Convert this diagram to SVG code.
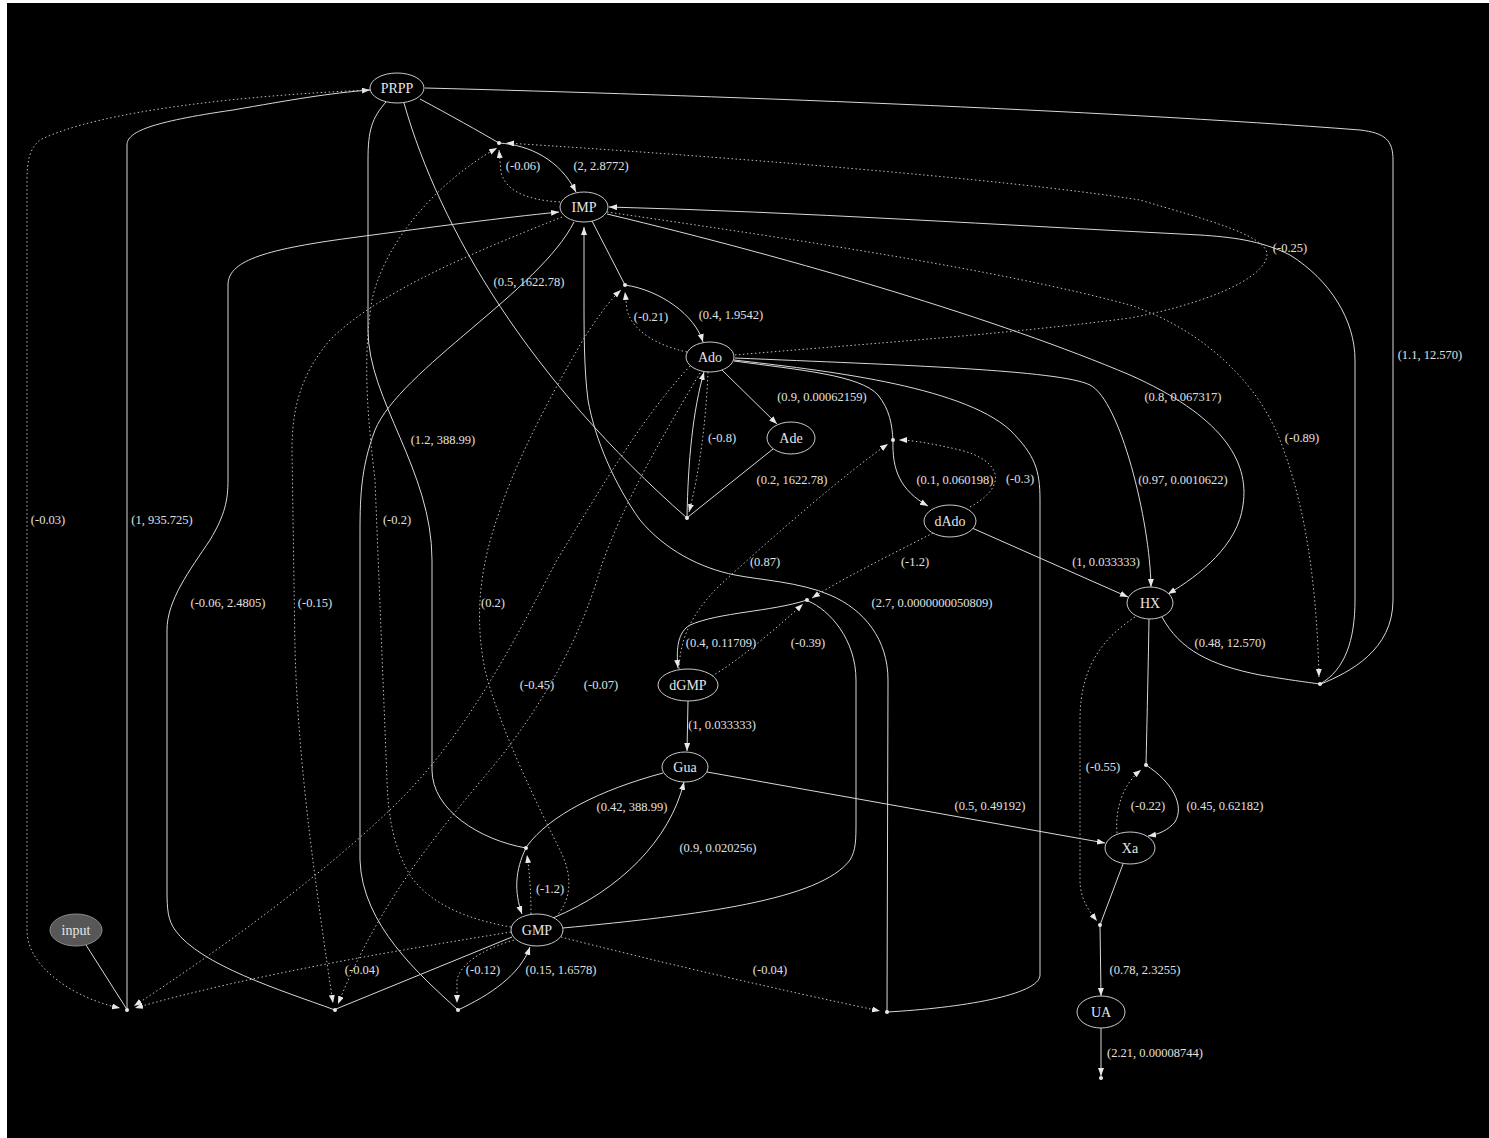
<svg xmlns="http://www.w3.org/2000/svg" width="1489" height="1138" viewBox="0 0 1489 1138">
<style>
.e{fill:none;stroke:#d8d8d8;stroke-width:1}
.d{fill:none;stroke:#bdbdbd;stroke-width:1;stroke-dasharray:1.5,2.5}
.a{marker-end:url(#ah)}
.n{fill:#000;stroke:#c8c8c8;stroke-width:1}
.nt{font-family:"Liberation Serif","Times New Roman",serif;font-size:14px;fill:#e6e6e6;text-anchor:middle}
.lt{font-family:"Liberation Serif","Times New Roman",serif;font-size:12.5px;fill:#e0e0e0;text-anchor:middle}
.p{fill:#e8e8e8}
</style>
<defs>
<marker id="ah" markerUnits="userSpaceOnUse" markerWidth="9" markerHeight="7" refX="8" refY="3" orient="auto">
<path d="M0,0 L8,3 L0,6 z" fill="#e8e8e8"/>
</marker>
</defs>
<rect x="0" y="0" width="1489" height="1138" fill="#fff"/>
<rect x="7" y="3" width="1482" height="1135" fill="#000"/>
<g id="connectors">
<!-- substrate edges -->
<path class="e" d="M420,99 C450,115 480,132 499,143"/>
<path class="e" d="M592,221 L625,285"/>
<path class="e" d="M404,103 C440,230 530,380 687,518"/>
<path class="e" d="M773,449 L688,517"/>
<path class="e" d="M386,102 C372,118 368,130 368,160 L368,330 C368,400 432,470 432,560 L432,770 C432,810 480,840 526,848"/>
<path class="e" d="M663,773 C600,790 550,815 527,846"/>
<path class="e" d="M574,222 C540,290 400,370 375,430 C360,470 360,500 360,540 L360,860 C362,925 420,975 458,1010"/>
<path class="e" d="M512,937 L336,1009"/>
<path class="e" d="M734,361 C800,370 860,375 878,395 C890,410 892,425 893,440"/>
<path class="e" d="M734,360 C820,370 960,385 1010,430 C1035,455 1040,470 1040,500 L1040,975 C1040,995 960,1008 887,1012"/>
<path class="e" d="M1149,619 C1148,680 1147,720 1146,765"/>
<path class="e" d="M1123,864 L1100,925"/>
<path class="e a" d="M1101,1028 L1101,1076"/>
<path class="e" d="M86,945 L126,1008"/>
<path class="e" d="M425,88 C700,95 1100,110 1360,130 C1385,133 1393,140 1393,160 L1393,600 C1393,650 1350,672 1321,684"/>
<path class="e" d="M1162,617 C1180,650 1210,665 1260,675 C1290,680 1305,682 1320,684"/>
<path class="e" d="M563,928 C700,915 820,900 850,860 C856,850 856,840 856,820 L856,680 C856,640 830,610 808,601"/>
<!-- product edges -->
<path class="e a" d="M499,143 C530,145 560,160 576,192"/>
<path class="e a" d="M625,285 C660,290 695,315 703,342"/>
<path class="e a" d="M687,518 C688,460 693,410 704,372"/>
<path class="e a" d="M722,370 L777,424"/>
<path class="e a" d="M893,440 C892,470 900,490 928,506"/>
<path class="e a" d="M807,600 C770,612 720,612 690,625 C678,632 676,648 678,668"/>
<path class="e a" d="M688,701 L687,751"/>
<path class="e a" d="M526,848 C515,870 514,892 522,914"/>
<path class="e a" d="M553,918 C620,890 670,840 684,782"/>
<path class="e a" d="M707,772 L1105,843"/>
<path class="e a" d="M735,358 C900,365 1060,370 1090,385 C1120,400 1150,520 1151,587"/>
<path class="e a" d="M607,214 C800,260 1000,320 1130,375 C1220,415 1250,460 1243,505 C1238,545 1200,575 1168,594"/>
<path class="e a" d="M972,528 L1128,597"/>
<path class="e a" d="M1146,765 C1172,782 1185,805 1175,822 C1168,830 1160,834 1148,836"/>
<path class="e a" d="M1100,925 L1101,996"/>
<path class="e a" d="M1320,684 C1345,670 1355,640 1355,600 L1355,360 C1355,320 1330,280 1290,255 C1260,240 1230,237 1200,235 C1000,225 800,212 609,207"/>
<path class="e a" d="M127,1010 L127,145 C127,132 150,122 233,110 C290,100 330,93 370,90"/>
<path class="e a" d="M335,1010 C280,990 200,965 175,930 C168,920 167,910 167,890 L167,630 C167,600 190,570 210,540 C225,515 228,500 228,480 L228,285 C228,262 260,250 350,238 C440,226 500,218 559,212"/>
<path class="e a" d="M458,1010 C490,995 520,975 530,947"/>
<path class="e a" d="M887,1012 L888,680 C888,640 865,610 830,595 C800,582 760,580 735,575 C700,568 665,550 640,520 C615,485 595,440 588,400 C584,370 584,330 584,300 L584,227"/>
<!-- modifier edges -->
<path class="d a" d="M560,202 C525,200 505,190 501,172 L499,150"/>
<path class="d a" d="M735,355 C850,345 1000,335 1130,318 C1200,305 1265,280 1267,255 C1268,235 1200,218 1140,200 C1000,178 700,155 506,143"/>
<path class="d a" d="M511,927 C470,920 430,905 410,875 C395,850 388,820 387,780 L375,480 C368,420 362,360 372,300 C385,240 440,180 497,148"/>
<path class="d a" d="M687,352 C655,345 632,330 627,310 L625,292"/>
<path class="d a" d="M556,917 C575,895 570,870 560,850 C540,810 500,730 485,670 C475,620 478,570 500,510 C520,450 560,380 580,345 C595,320 610,300 621,290"/>
<path class="d a" d="M708,372 C706,420 700,470 689,512"/>
<path class="d a" d="M679,669 C680,640 690,615 720,585 C780,530 850,470 888,444"/>
<path class="d a" d="M970,507 C1010,485 1000,460 960,450 C930,443 910,440 899,440"/>
<path class="d a" d="M933,533 C890,555 840,580 812,598"/>
<path class="d a" d="M712,676 C740,660 780,625 803,604"/>
<path class="d a" d="M531,914 C531,895 530,875 527,855"/>
<path class="d a" d="M1117,833 C1115,810 1122,785 1141,770"/>
<path class="d a" d="M1135,617 C1100,640 1080,670 1080,720 L1080,880 C1080,900 1090,912 1097,921"/>
<path class="d a" d="M607,212 C800,240 1000,270 1130,305 C1190,325 1250,370 1278,435 C1300,490 1316,560 1319,677"/>
<path class="d a" d="M370,90 C250,95 100,110 40,140 C30,148 27,160 27,180 L27,930 C27,970 80,1000 120,1008"/>
<path class="d a" d="M511,932 C400,950 250,975 135,1008"/>
<path class="d a" d="M690,366 C640,420 600,490 557,560 C520,630 470,730 400,800 C330,870 220,950 134,1006"/>
<path class="d a" d="M700,373 C660,440 620,510 600,570 C580,640 540,710 490,770 C440,830 380,900 338,1004"/>
<path class="d a" d="M562,217 C480,250 380,290 330,340 C300,375 292,410 292,450 L295,650 C298,750 310,850 333,1003"/>
<path class="d a" d="M514,940 C480,950 460,965 457,980 L457,1003"/>
<path class="d a" d="M561,937 C650,960 780,990 880,1011"/>
<!-- edge labels -->
<text class="lt" x="601" y="170">(2, 2.8772)</text>
<text class="lt" x="523" y="170">(-0.06)</text>
<text class="lt" x="529" y="286">(0.5, 1622.78)</text>
<text class="lt" x="651" y="321">(-0.21)</text>
<text class="lt" x="731" y="319">(0.4, 1.9542)</text>
<text class="lt" x="822" y="401">(0.9, 0.00062159)</text>
<text class="lt" x="722" y="442">(-0.8)</text>
<text class="lt" x="792" y="484">(0.2, 1622.78)</text>
<text class="lt" x="443" y="444">(1.2, 388.99)</text>
<text class="lt" x="1290" y="252">(-0.25)</text>
<text class="lt" x="1430" y="359">(1.1, 12.570)</text>
<text class="lt" x="1183" y="401">(0.8, 0.067317)</text>
<text class="lt" x="1302" y="442">(-0.89)</text>
<text class="lt" x="1183" y="484">(0.97, 0.0010622)</text>
<text class="lt" x="955" y="484">(0.1, 0.060198)</text>
<text class="lt" x="1020" y="483">(-0.3)</text>
<text class="lt" x="1106" y="566">(1, 0.033333)</text>
<text class="lt" x="915" y="566">(-1.2)</text>
<text class="lt" x="765" y="566">(0.87)</text>
<text class="lt" x="932" y="607">(2.7, 0.0000000050809)</text>
<text class="lt" x="1230" y="647">(0.48, 12.570)</text>
<text class="lt" x="48" y="524">(-0.03)</text>
<text class="lt" x="162" y="524">(1, 935.725)</text>
<text class="lt" x="397" y="524">(-0.2)</text>
<text class="lt" x="228" y="607">(-0.06, 2.4805)</text>
<text class="lt" x="315" y="607">(-0.15)</text>
<text class="lt" x="493" y="607">(0.2)</text>
<text class="lt" x="721" y="647">(0.4, 0.11709)</text>
<text class="lt" x="808" y="647">(-0.39)</text>
<text class="lt" x="537" y="689">(-0.45)</text>
<text class="lt" x="601" y="689">(-0.07)</text>
<text class="lt" x="722" y="729">(1, 0.033333)</text>
<text class="lt" x="1103" y="771">(-0.55)</text>
<text class="lt" x="632" y="811">(0.42, 388.99)</text>
<text class="lt" x="990" y="810">(0.5, 0.49192)</text>
<text class="lt" x="1148" y="810">(-0.22)</text>
<text class="lt" x="1225" y="810">(0.45, 0.62182)</text>
<text class="lt" x="718" y="852">(0.9, 0.020256)</text>
<text class="lt" x="550" y="893">(-1.2)</text>
<text class="lt" x="362" y="974">(-0.04)</text>
<text class="lt" x="483" y="974">(-0.12)</text>
<text class="lt" x="561" y="974">(0.15, 1.6578)</text>
<text class="lt" x="770" y="974">(-0.04)</text>
<text class="lt" x="1145" y="974">(0.78, 2.3255)</text>
<text class="lt" x="1155" y="1057">(2.21, 0.00008744)</text>
</g>
<g id="PRPP"><ellipse class="n" cx="397" cy="88" rx="27" ry="15"/><text class="nt" x="397" y="93">PRPP</text></g>
<g id="IMP"><ellipse class="n" cx="584" cy="207" rx="24" ry="15"/><text class="nt" x="584" y="212">IMP</text></g>
<g id="Ado"><ellipse class="n" cx="710" cy="357" rx="24" ry="15"/><text class="nt" x="710" y="362">Ado</text></g>
<g id="Ade"><ellipse class="n" cx="791" cy="438" rx="24" ry="16"/><text class="nt" x="791" y="443">Ade</text></g>
<g id="dAdo"><ellipse class="n" cx="950" cy="521" rx="26" ry="16"/><text class="nt" x="950" y="526">dAdo</text></g>
<g id="HX"><ellipse class="n" cx="1150" cy="603" rx="23" ry="16"/><text class="nt" x="1150" y="608">HX</text></g>
<g id="dGMP"><ellipse class="n" cx="688" cy="685" rx="30" ry="16"/><text class="nt" x="688" y="690">dGMP</text></g>
<g id="Gua"><ellipse class="n" cx="685" cy="767" rx="23" ry="15"/><text class="nt" x="685" y="772">Gua</text></g>
<g id="Xa"><ellipse class="n" cx="1130" cy="848" rx="25" ry="16"/><text class="nt" x="1130" y="853">Xa</text></g>
<g id="GMP"><ellipse class="n" cx="537" cy="930" rx="26" ry="16"/><text class="nt" x="537" y="935">GMP</text></g>
<g id="input"><ellipse cx="76" cy="930" rx="26" ry="16" fill="#575757" stroke="#8a8a8a"/><text class="nt" x="76" y="935">input</text></g>
<g id="UA"><ellipse class="n" cx="1101" cy="1012" rx="24" ry="16"/><text class="nt" x="1101" y="1017">UA</text></g>
<g id="r_amidot"><circle class="p" cx="499" cy="143" r="2"/></g>
<g id="r_asuc"><circle class="p" cx="625" cy="285" r="2"/></g>
<g id="r_aprt"><circle class="p" cx="687" cy="518" r="2"/></g>
<g id="r_ardr"><circle class="p" cx="893" cy="440" r="2"/></g>
<g id="r_grdr"><circle class="p" cx="807" cy="600" r="2"/></g>
<g id="r_gprt"><circle class="p" cx="526" cy="848" r="2"/></g>
<g id="r_hxd"><circle class="p" cx="1146" cy="765" r="2"/></g>
<g id="r_xd"><circle class="p" cx="1100" cy="925" r="2"/></g>
<g id="r_hprt"><circle class="p" cx="1320" cy="684" r="2"/></g>
<g id="r_prpps"><circle class="p" cx="127" cy="1010" r="2"/></g>
<g id="r_gmpr"><circle class="p" cx="335" cy="1010" r="2"/></g>
<g id="r_impd"><circle class="p" cx="458" cy="1010" r="2"/></g>
<g id="r_ampd"><circle class="p" cx="887" cy="1012" r="2"/></g>
<g id="r_ua"><circle class="p" cx="1101" cy="1078" r="2"/></g>
</svg>
